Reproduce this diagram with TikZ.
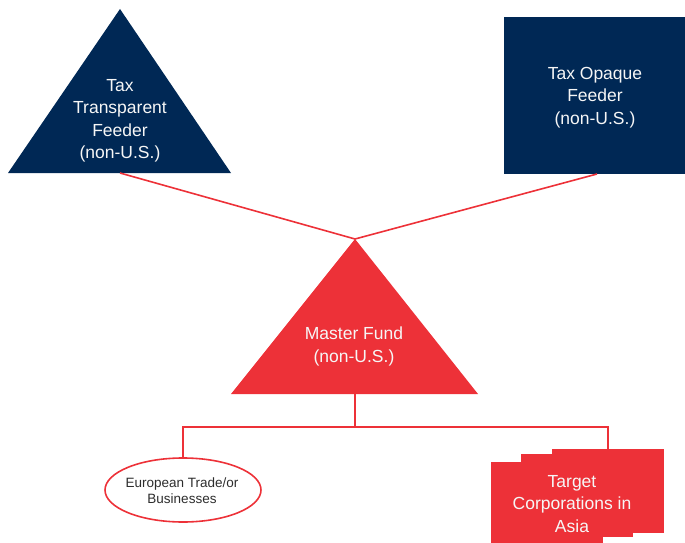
\documentclass[tikz,border=0pt]{standalone}
\usepackage{fontspec}
\setmainfont{Liberation Sans}
\usetikzlibrary{shapes.geometric}
\definecolor{navy}{RGB}{0,40,85}
\definecolor{fundred}{RGB}{237,49,56}
\definecolor{darktext}{RGB}{45,45,45}
\begin{document}
\begin{tikzpicture}[x=1pt,y=-1pt,
  label/.style={align=center,text=white!93!gray,font=\fontsize{17.5}{22.5}\selectfont},
  smalllabel/.style={align=center,text=darktext,font=\fontsize{13.5}{16}\selectfont},
  link/.style={draw=fundred,line width=1.6pt},
  redbox/.style={fill=fundred,draw=none}]
\useasboundingbox (0,0) rectangle (685,543);

% feeders
\fill[navy] (120,9) -- (231,173) -- (8,173) -- cycle;
\coordinate (ttf) at (120,173);
\node[label] (ttftext) at (120,121) {Tax\\Transparent\\Feeder\\(non-U.S.)};

\fill[navy] (504,17) rectangle (686,174);
\coordinate (tof) at (597,174);
\node[label] (toftext) at (595,97.5) {Tax Opaque\\Feeder\\(non-U.S.)};

% master fund
\fill[fundred] (355,239) -- (478,394) -- (231,394) -- cycle;
\coordinate (mfapex) at (355,239);
\coordinate (mfbase) at (355,394);
\node[label] (mftext) at (354,346.5) {Master Fund\\(non-U.S.)};

% holdings
\node[ellipse,draw=fundred,line width=1.6pt,fill=white,minimum width=156,minimum height=64,inner sep=0pt] (eu) at (183,490) {};
\node[smalllabel] (eutext) at (182,491) {European Trade/or\\Businesses};

\path[redbox] (552,449) rectangle (664,533);
\path[redbox] (521,454) rectangle (633,537);
\path[redbox] (491,462) rectangle (603,548);
\coordinate (asiatop) at (608,449);
\node[label] (asiatext) at (572,504) {Target\\Corporations in\\Asia};

% connectors
\coordinate (split) at (355,427);
\draw[link] (ttf) -- (mfapex);
\draw[link] (tof) -- (mfapex);
\draw[link] (mfbase) -- (split);
\draw[link] (eu.north) |- (split) -| (asiatop);
\end{tikzpicture}
\end{document}
